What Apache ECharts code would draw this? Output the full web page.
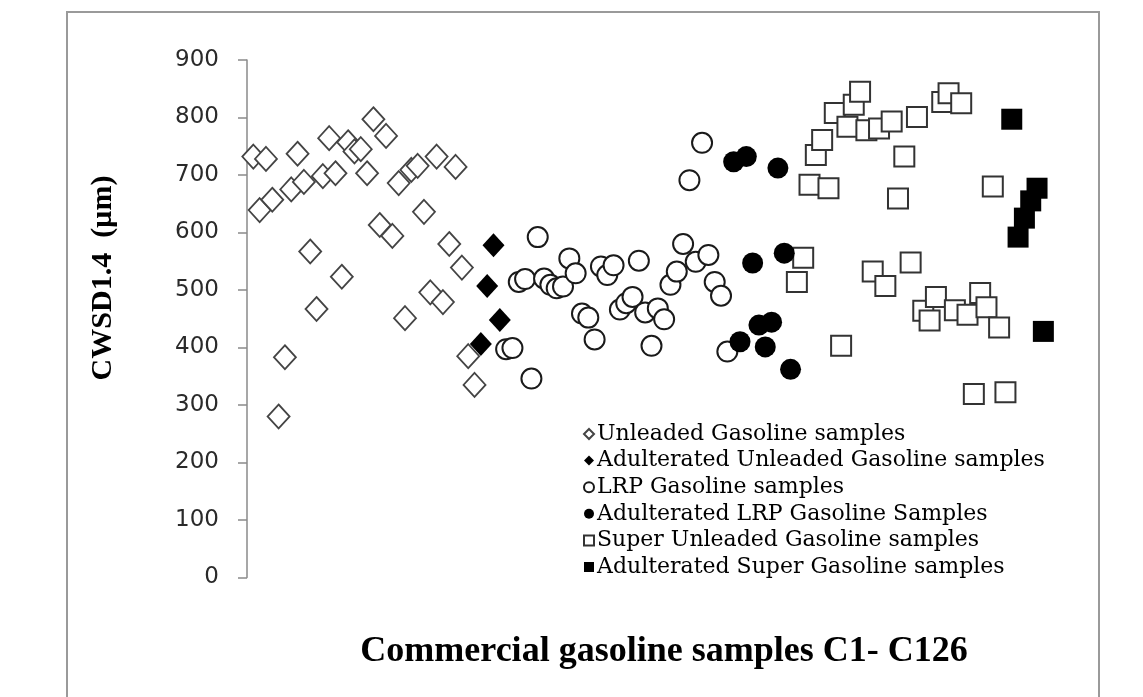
<!DOCTYPE html>
<html>
<head>
<meta charset="utf-8">
<script src="https://cdn.jsdelivr.net/npm/echarts@6/dist/echarts.min.js"></script>
<style>html,body{margin:0;padding:0;background:#fff;}#c{width:1143px;height:697px;}</style>
</head>
<body>
<div id="c"></div>
<script>
// [sample number, CWSD1.4 (µm)]
const unleaded = [[1,732],[2,639],[3,728],[4,657],[5,280],[6,383],[7,675],[8,737],[9,688],[10,567],[11,467],[12,698],[13,764],[14,703],[15,523],[16,757],[17,741],[18,745],[19,703],[20,797],[21,613],[22,768],[23,594],[24,686],[25,451],[26,709],[27,716],[28,636],[29,496],[30,732],[31,479],[32,580],[33,714],[34,539],[35,385],[36,335]];
const adultUnleaded = [[37,406],[38,507],[39,578],[40,448]];
const lrp = [[41,397],[42,399],[43,514],[44,519],[45,346],[46,592],[47,520],[48,509],[49,503],[50,506],[51,555],[52,529],[53,459],[54,452],[55,414],[56,541],[57,526],[58,543],[59,466],[60,477],[61,488],[62,551],[63,461],[64,403],[65,468],[66,449],[67,509],[68,532],[69,580],[70,691],[71,549],[72,756],[73,561],[74,514],[75,490],[76,393]];
const adultLrp = [[77,723],[78,410],[79,732],[80,547],[81,439],[82,401],[83,444],[84,712],[85,564],[86,362]];
const superUnleaded = [[87,514],[88,556],[89,683],[90,735],[91,761],[92,677],[93,808],[94,403],[95,784],[96,822],[97,845],[98,778],[99,532],[100,781],[101,507],[102,793],[103,659],[104,732],[105,548],[106,801],[107,464],[108,447],[109,488],[110,827],[111,842],[112,465],[113,825],[114,457],[115,319],[116,495],[117,470],[118,680],[119,435],[120,322]];
const adultSuper = [[121,797],[122,592],[123,625],[124,655],[125,677],[126,428]];
const seriesNames = ['Unleaded Gasoline samples','Adulterated Unleaded Gasoline samples','LRP Gasoline samples','Adulterated LRP Gasoline Samples','Super Unleaded Gasoline samples','Adulterated Super Gasoline samples'];
const yTicks = {min:0, max:900, interval:100};

const chart = echarts.init(document.getElementById('c'), null, {renderer:'canvas'});
const openStyle = (c,w)=>({color:'#ffffff', borderColor:c, borderWidth:w, opacity:1});
const fillStyle = {color:'#000000', borderWidth:0, opacity:1};
chart.setOption({
  animation:false,
  backgroundColor:'#ffffff',
  grid:{left:247, top:60, width:809, height:517.5, containLabel:false},
  xAxis:{type:'value', min:0, max:128, show:false},
  yAxis:{type:'value', min:yTicks.min, max:yTicks.max, interval:yTicks.interval,
    axisLine:{show:true, lineStyle:{color:'#8a8a8a', width:1.5}},
    axisTick:{show:true, inside:false, length:9, lineStyle:{color:'#8a8a8a', width:1.5}},
    splitLine:{show:false},
    axisLabel:{margin:28, color:'#2a2a2a', fontFamily:'DejaVu Sans', fontSize:23}
  },
  legend:{orient:'vertical', left:578, top:418, itemWidth:10, itemHeight:10, itemGap:4.6,
    textStyle:{fontFamily:'DejaVu Serif', fontSize:22, lineHeight:21, color:'#000', padding:[0,0,0,-2]},
    data:seriesNames},
  graphic:[
    {type:'rect', shape:{x:67, y:12, width:1032, height:720}, style:{fill:'none', stroke:'#9a9a9a', lineWidth:2}, silent:true},
    {type:'text', x:103, y:278, rotation:Math.PI/2, style:{text:'CWSD1.4  (µm)', font:'bold 30px "Liberation Serif"', fill:'#000', textAlign:'center', textVerticalAlign:'middle'}},
    {type:'text', x:664, y:652, style:{text:'Commercial gasoline samples C1- C126', font:'bold 36px "Liberation Serif"', fill:'#000', textAlign:'center', textVerticalAlign:'middle'}}
  ],
  series:[
    {name:seriesNames[0], type:'scatter', data:unleaded, symbol:'diamond', symbolSize:[22,24], itemStyle:openStyle('#444',1.8), z:2},
    {name:seriesNames[1], type:'scatter', data:adultUnleaded, symbol:'diamond', symbolSize:[22,24], itemStyle:fillStyle, z:3},
    {name:seriesNames[2], type:'scatter', data:lrp, symbol:'circle', symbolSize:20, itemStyle:openStyle('#1a1a1a',2), z:2},
    {name:seriesNames[3], type:'scatter', data:adultLrp, symbol:'circle', symbolSize:21, itemStyle:fillStyle, z:3},
    {name:seriesNames[4], type:'scatter', data:superUnleaded, symbol:'rect', symbolSize:20, itemStyle:openStyle('#333',2), z:2},
    {name:seriesNames[5], type:'scatter', data:adultSuper, symbol:'rect', symbolSize:21, itemStyle:fillStyle, z:3}
  ]
});
</script>
</body>
</html>
